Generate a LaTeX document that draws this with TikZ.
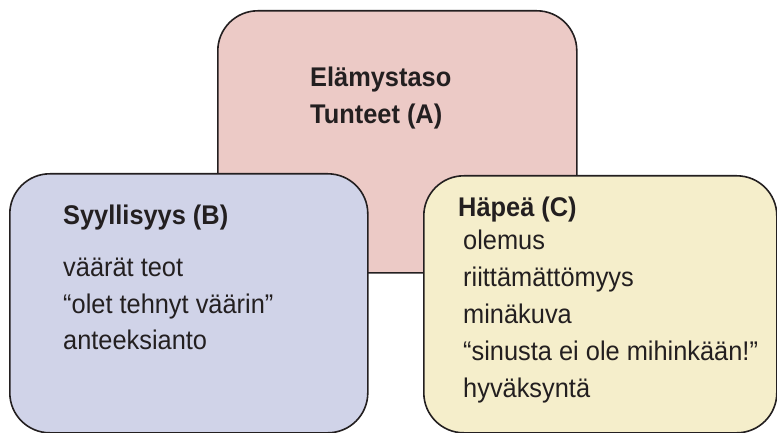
\documentclass[tikz,border=0pt]{standalone}
\usepackage{fontspec}
\setmainfont{Liberation Sans}[FakeStretch=0.94]
\definecolor{inkline}{HTML}{231F20}
\definecolor{tunteetfill}{HTML}{ECCAC6}
\definecolor{syyllisyysfill}{HTML}{D0D3E8}
\definecolor{hapeafill}{HTML}{F5EECB}
\tikzset{
  tunne box/.style={draw=inkline, line width=1.6pt, rounded corners=40pt, anchor=north west, inner sep=0pt},
  otsikko/.style={anchor=base west, inner sep=0pt, text=inkline, font=\bfseries\fontsize{27}{27}\selectfont},
  rivi/.style={anchor=base west, inner sep=0pt, text=inkline, font=\fontsize{27}{27}\selectfont}
}
\begin{document}
\begin{tikzpicture}[x=1pt,y=-1pt]
\useasboundingbox (0,0) rectangle (777,433);
% boxes
\node[tunne box, fill=tunteetfill, minimum width=359pt, minimum height=262pt] (tunteet) at (217,10) {};
\node[tunne box, fill=syyllisyysfill, minimum width=358pt, minimum height=259pt] (syyllisyys) at (9,173) {};
\node[tunne box, fill=hapeafill, minimum width=353pt, minimum height=257pt] (hapea) at (423,175) {};
% A
\node[otsikko] (tunteetA) at (310,86.5) {Elämystaso};
\node[otsikko] (tunteetB) at (310,123.5) {Tunteet (A)};
% B
\node[otsikko] (syyllisyysOts) at (63,224) {Syyllisyys (B)};
\node[rivi] (syyllisyys1) at (63,276.5) {väärät teot};
\node[rivi] (syyllisyys2) at (63,313) {“olet tehnyt väärin”};
\node[rivi] (syyllisyys3) at (63,349.5) {anteeksianto};
% C
\node[otsikko] (hapeaOts) at (458,216) {Häpeä (C)};
\node[rivi] (hapea1) at (463,249) {olemus};
\node[rivi] (hapea2) at (463,286.5) {riittämättömyys};
\node[rivi] (hapea3) at (463,323.5) {minäkuva};
\node[rivi] (hapea4) at (463,360.5) {“sinusta ei ole mihinkään!”};
\node[rivi] (hapea5) at (463,397.5) {hyväksyntä};
\end{tikzpicture}
\end{document}
